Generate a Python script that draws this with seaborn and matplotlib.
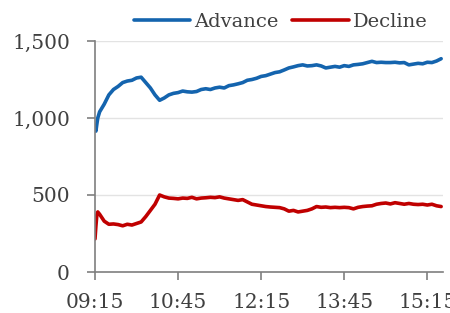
import numpy as np
import pandas as pd
import matplotlib
matplotlib.use("Agg")
import matplotlib.pyplot as plt
import matplotlib.dates as mdates
import seaborn as sns
from matplotlib.lines import Line2D

# ---- data ----
early_times = ["09:15", "09:16", "09:17", "09:18"]
regular_start = "09:20"
regular_end = "15:30"

advance = [930, 915, 960, 1000,
           1040, 1090, 1150, 1185, 1205, 1230, 1240, 1245, 1260, 1265,
           1230, 1195, 1150, 1115, 1130, 1150, 1160, 1165, 1175, 1170,
           1168, 1172, 1185, 1190, 1185, 1195, 1200, 1195, 1210, 1215,
           1222, 1230, 1245, 1250, 1258, 1270, 1275, 1285, 1295, 1300,
           1312, 1325, 1332, 1340, 1345, 1338, 1340, 1345, 1338, 1325,
           1330, 1335, 1330, 1340, 1335, 1345, 1348, 1352, 1360, 1368,
           1360, 1362, 1360, 1360, 1362, 1358, 1360, 1345, 1350, 1355,
           1352, 1362, 1360, 1370, 1385]

decline = [215, 300, 370, 390,
           375, 330, 310, 312, 308, 300, 310, 305, 315, 325,
           360, 400, 440, 500, 488, 480, 478, 475, 480, 478,
           485, 475, 480, 482, 485, 483, 488, 480, 475, 470,
           465, 470, 455, 440, 435, 430, 425, 422, 420, 418,
           410, 395, 400, 390, 395, 400, 410, 425, 420, 422,
           418, 420, 418, 420, 418, 410, 420, 425, 428, 430,
           440, 445, 448, 442, 450, 445, 440, 445, 440, 438,
           440, 435, 440, 430, 425]

series_names = ["Advance", "Decline"]
series_colors = ["#1464AE", "#C00000"]
x_tick_labels = ["09:15", "10:45", "12:15", "13:45", "15:15"]
y_ticks = [0, 500, 1000, 1500]

# ---- build table ----
day = "2024-01-01 "
times = pd.to_datetime([day + t for t in early_times]).append(
    pd.date_range(day + regular_start, day + regular_end, freq="5min"))
df = pd.DataFrame({"time": list(times) * 2,
                   "value": advance + decline,
                   "series": [series_names[0]] * len(advance) + [series_names[1]] * len(decline)})

sns.set_theme(style="white")
plt.rcParams["font.family"] = ["DejaVu Serif"]

fig = plt.figure(figsize=(4.5, 3.13), dpi=100)
ax = fig.add_axes([95 / 450, 1 - 272 / 313, (443 - 95) / 450, (272 - 41) / 313])

sns.lineplot(data=df, x="time", y="value", hue="series", hue_order=series_names,
             palette=series_colors, linewidth=2.6, ax=ax, legend=False)

ax.set_ylim(0, 1500)
ax.set_yticks(y_ticks)
ax.yaxis.set_major_formatter(matplotlib.ticker.FuncFormatter(lambda v, p: f"{int(v):,}"))
ax.set_xlim(pd.Timestamp(day + "09:15"), pd.Timestamp(day + "15:32"))
ax.set_xticks(pd.to_datetime([day + t for t in x_tick_labels]))
ax.xaxis.set_major_formatter(mdates.DateFormatter("%H:%M"))
ax.set_xlabel("")
ax.set_ylabel("")

for yv in y_ticks[1:]:
    ax.axhline(yv, color="#E3E3E3", linewidth=1, zorder=0)

for s in ["top", "right"]:
    ax.spines[s].set_visible(False)
for s in ["left", "bottom"]:
    ax.spines[s].set_color("#7F7F7F")
    ax.spines[s].set_linewidth(1.2)

ax.tick_params(axis="both", which="major", labelsize=14.5, labelcolor="#404040",
               color="#7F7F7F", length=6, width=1.2, direction="out",
               left=True, bottom=True)
ax.tick_params(axis="x", pad=9)
ax.tick_params(axis="y", pad=12)

handles = [Line2D([0], [0], color=c, linewidth=2.6) for c in series_colors]
fig.legend(handles, series_names, loc="center left", bbox_to_anchor=(134 / 450, 1 - 22 / 313),
           ncol=2, frameon=False, fontsize=14, handlelength=2.9, handletextpad=0.2,
           columnspacing=0.7, labelcolor="#404040", borderaxespad=0, borderpad=0)

fig.savefig("out.png", dpi=100)
